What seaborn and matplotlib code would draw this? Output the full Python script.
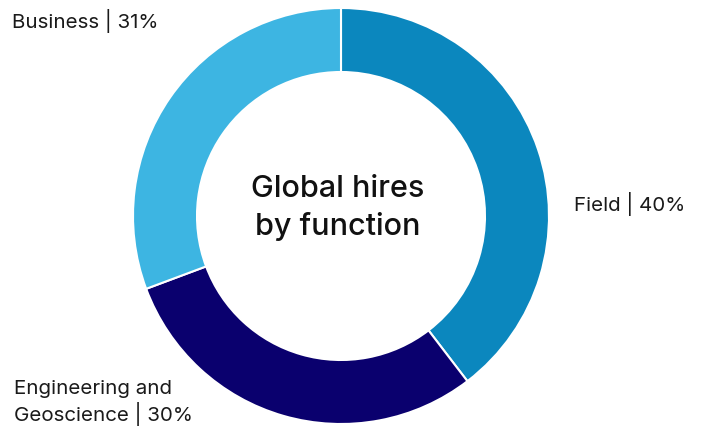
import matplotlib
matplotlib.use("Agg")
import matplotlib.pyplot as plt
import seaborn as sns

functions = ["Field", "Engineering and\nGeoscience", "Business"]
shares = [40, 30, 31]
colors = ["#0B87BE", "#0A006E", "#3DB5E2"]

sns.set_theme(style="white")
plt.rcParams["font.family"] = ["Inter", "DejaVu Sans"]

W, H = 701, 429
fig = plt.figure(figsize=(W / 100, H / 100), dpi=100)
ax = fig.add_axes([0, 0, 1, 1])

cx, cy, r = 341, H - 216, 208
ax.pie(
    shares,
    colors=colors,
    startangle=90,
    counterclock=False,
    center=(cx, cy),
    radius=r,
    wedgeprops=dict(width=64, edgecolor="white", linewidth=1.5),
    frame=True,
)
ax.set_xlim(0, W)
ax.set_ylim(0, H)
ax.set_aspect("equal")
ax.axis("off")

# label anchors, in pixels from the top left
label_pos = [
    (574, 204),
    (14, 403),
    (12, 21),
]
for name, share, (x, y) in zip(functions, shares, label_pos):
    ax.text(x, H - y, f"{name} | {share}%", ha="left", va="center",
            fontsize=14.8, color="#1a1a1a", linespacing=1.2)

ax.text(cx - 3, H - 208, "Global hires\nby function", ha="center", va="center",
        fontsize=22, fontweight="medium", color="#111111", linespacing=1.4)

fig.savefig("out.png", dpi=100)
